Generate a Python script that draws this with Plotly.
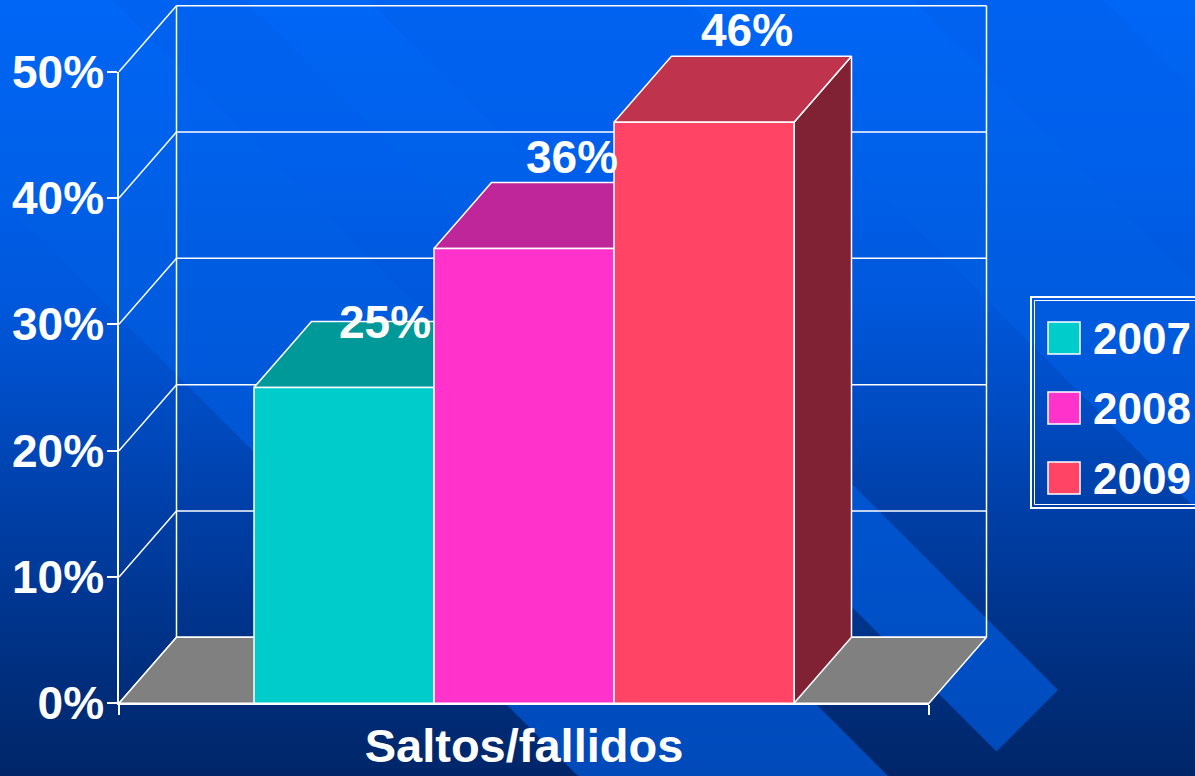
import plotly.graph_objects as go

# ---------------- data ----------------
categories = ["Saltos/fallidos"]
series_names = ["2007", "2008", "2009"]
values = [25, 36, 46]
value_labels = ["25%", "36%", "46%"]
y_tick_values = [0, 10, 20, 30, 40, 50]
y_tick_labels = ["0%", "10%", "20%", "30%", "40%", "50%"]

# ---------------- style / layout constants ----------------
W, H = 1195, 776
FONT = "Liberation Sans, Arial, sans-serif"
FRONT = ["#00CCCC", "#FF33CC", "#FF4466"]
FLOOR = "#808080"
EDGE = "white"
EDGE_W = 1.5

AX_X0, AX_X1 = 119.0, 929.0     # pixel span of the front category axis
AX_Y0, AX_Y50 = 703.3, 71.7     # pixel rows of 0 % and 50 %
Y_MAX = 50
GAP, BAR_W = 0.75, 1.0
DEPTH_PX = (57.5, 66.0)
LABEL_DX = [0.228, 0.267, 0.239]
LABEL_DY = [5.19, 7.25, 7.31]

n = len(values)
SPAN = 2 * GAP + n * BAR_W
ux = (AX_X1 - AX_X0) / SPAN
uy = (AX_Y0 - AX_Y50) / Y_MAX
DX = DEPTH_PX[0] / ux
DY = DEPTH_PX[1] / uy


def shade(hexc, f):
    r, g, b = int(hexc[1:3], 16), int(hexc[3:5], 16), int(hexc[5:7], 16)
    return f"rgb({round(r * f)},{round(g * f)},{round(b * f)})"


def px(x, y):
    return x / W, 1 - y / H


# ---------------- background (gradient + diagonal bands) ----------------
BG_STOPS = [(0, (0, 98, 240)), (150, (0, 96, 236)), (300, (0, 88, 220)),
            (400, (0, 76, 196)), (500, (0, 64, 170)), (600, (0, 54, 145)),
            (700, (0, 44, 120)), (776, (0, 38, 104))]
BAND_STOPS = [(0, (0, 102, 246)), (776, (0, 74, 186))]
BANDS = [(-198, 112, None), (245, 368, 1748), (687, 913, None), (1103, 3000, None)]


def interp(stops, y):
    for (y0, c0), (y1, c1) in zip(stops[:-1], stops[1:]):
        if y <= y1:
            t = (y - y0) / (y1 - y0)
            return "rgb(%d,%d,%d)" % tuple(round(a + (b - a) * t) for a, b in zip(c0, c1))
    return "rgb(%d,%d,%d)" % stops[-1][1]


def clip(poly, a, b, d):
    out = []
    m = len(poly)
    for i in range(m):
        P, Q = poly[i], poly[(i + 1) % m]
        fp = a * P[0] + b * P[1] - d
        fq = a * Q[0] + b * Q[1] - d
        if fp <= 0:
            out.append(P)
        if fp * fq < 0:
            t = fp / (fp - fq)
            out.append((P[0] + t * (Q[0] - P[0]), P[1] + t * (Q[1] - P[1])))
    return out


def path_of(poly):
    pts = [px(x, y) for x, y in poly]
    return "M " + " L ".join(f"{a:.5f},{b:.5f}" for a, b in pts) + " Z"


shapes = []
STRIP = 8
bg_shapes, band_shapes = [], []
for ya in range(0, H, STRIP):
    yb = min(H + 1, ya + STRIP + 1)
    ym = ya + STRIP / 2
    x0p, y0p = px(-2, yb)
    x1p, y1p = px(W + 2, ya)
    bg_shapes.append(dict(type="rect", xref="paper", yref="paper", x0=x0p, x1=x1p,
                          y0=y0p, y1=y1p, fillcolor=interp(BG_STOPS, ym),
                          line=dict(width=0), layer="below"))
    for c1, c2, s in BANDS:
        poly = [(-2, ya), (W + 2, ya), (W + 2, yb), (-2, yb)]
        poly = clip(poly, -1, 1, -c1)
        if len(poly) >= 3:
            poly = clip(poly, 1, -1, c2)
        if s is not None and len(poly) >= 3:
            poly = clip(poly, 1, 1, s)
        if len(poly) >= 3:
            band_shapes.append(dict(type="path", xref="paper", yref="paper",
                                    path=path_of(poly), fillcolor=interp(BAND_STOPS, ym),
                                    line=dict(width=0), layer="below"))
shapes += bg_shapes + band_shapes

# ---------------- walls / gridlines (data coordinates) ----------------
grid = dict(color=EDGE, width=EDGE_W)
for t in y_tick_values:
    shapes.append(dict(type="line", xref="x", yref="y", x0=DX, x1=SPAN + DX,
                       y0=t + DY, y1=t + DY, line=grid, layer="below"))
    shapes.append(dict(type="line", xref="x", yref="y", x0=0, x1=DX,
                       y0=t, y1=t + DY, line=grid, layer="below"))
for xv in (DX, SPAN + DX):
    shapes.append(dict(type="line", xref="x", yref="y", x0=xv, x1=xv,
                       y0=DY, y1=Y_MAX + DY, line=grid, layer="below"))

# ---------------- traces ----------------
fig = go.Figure()


def face(xs, ys, color):
    fig.add_trace(go.Scatter(x=xs + [xs[0]], y=ys + [ys[0]], mode="lines", fill="toself",
                             fillcolor=color, line=dict(color=EDGE, width=EDGE_W),
                             hoverinfo="skip", showlegend=False, xaxis="x", yaxis="y"))


# floor
face([0, SPAN, SPAN + DX, DX], [0, 0, DY, DY], FLOOR)

for i, v in enumerate(values):
    x0 = GAP + i * BAR_W
    x1 = x0 + BAR_W
    col = FRONT[i]
    face([x1, x1 + DX, x1 + DX, x1], [0, DY, v + DY, v], shade(col, 0.5))        # side
    face([x0, x1, x1 + DX, x0 + DX], [v, v, v + DY, v + DY], shade(col, 0.75))   # top
    face([x0, x1, x1, x0], [0, 0, v, v], col)                                     # front

# empty trace to anchor the visible axes subplot
fig.add_trace(go.Scatter(x=[], y=[], xaxis="x2", yaxis="y2", showlegend=False))

big = dict(family=FONT, size=46, color="white", weight="bold")
title_font = dict(family=FONT, size=47, color="white", weight="bold")
legend_font = dict(family=FONT, size=44, color="white", weight="bold")

annotations = []
for i, (v, lab) in enumerate(zip(values, value_labels)):
    annotations.append(dict(x=GAP + i * BAR_W + BAR_W / 2 + LABEL_DX[i], y=v + LABEL_DY[i],
                            xref="x", yref="y", text=lab, showarrow=False,
                            xanchor="center", yanchor="middle", font=big))

# ---------------- manual legend ----------------
LEG_BOX = (1048, 1080)
LEG_Y0, LEG_STEP = 338, 70
LEG_TEXT_X = 1091
shapes.append(dict(type="rect", xref="paper", yref="paper",
                   x0=px(1031, 0)[0], x1=1.02, y0=px(0, 508)[1], y1=px(0, 297)[1],
                   line=dict(color="white", width=2)))
shapes.append(dict(type="rect", xref="paper", yref="paper",
                   x0=px(1034.5, 0)[0], x1=1.02, y0=px(0, 504.5)[1], y1=px(0, 300.5)[1],
                   line=dict(color="white", width=1)))
for i, name in enumerate(series_names):
    yc = LEG_Y0 + i * LEG_STEP
    shapes.append(dict(type="rect", xref="paper", yref="paper",
                       x0=px(LEG_BOX[0], 0)[0], x1=px(LEG_BOX[1], 0)[0],
                       y0=px(0, yc + 16)[1], y1=px(0, yc - 16)[1],
                       fillcolor=FRONT[i], line=dict(color="white", width=1.5)))
    annotations.append(dict(x=px(LEG_TEXT_X, 0)[0], y=px(0, yc)[1], xref="paper", yref="paper",
                            text=name, showarrow=False, xanchor="left", yanchor="middle",
                            font=legend_font))

fig.update_layout(
    template="none",
    width=W, height=H, autosize=False,
    margin=dict(l=0, r=0, t=0, b=0, pad=0, autoexpand=False),
    paper_bgcolor="#00266a", plot_bgcolor="rgba(0,0,0,0)",
    showlegend=False,
    shapes=shapes, annotations=annotations,
    xaxis=dict(domain=[0, 1], range=[-AX_X0 / ux, (W - AX_X0) / ux], visible=False,
               fixedrange=True, automargin=False),
    yaxis=dict(domain=[0, 1], range=[-(H - AX_Y0) / uy, AX_Y0 / uy], visible=False,
               fixedrange=True, automargin=False),
    xaxis2=dict(domain=[AX_X0 / W, AX_X1 / W], range=[0, SPAN], anchor="y2",
                automargin=False,
                showline=True, linecolor=EDGE, linewidth=EDGE_W, showgrid=False,
                zeroline=False, tickmode="array", tickvals=[SPAN / 2], ticktext=categories,
                ticks="", tickfont=title_font, ticklabelstandoff=1, fixedrange=True,
                minor=dict(tickmode="array", tickvals=[0, SPAN], ticks="outside", ticklen=10,
                           tickcolor=EDGE, tickwidth=EDGE_W, showgrid=False)),
    yaxis2=dict(domain=[1 - AX_Y0 / H, 1 - AX_Y50 / H], range=[0, Y_MAX], anchor="x2",
                automargin=False,
                showline=True, linecolor=EDGE, linewidth=EDGE_W, showgrid=False,
                zeroline=False, tickmode="array", tickvals=y_tick_values,
                ticktext=y_tick_labels, ticks="outside", ticklen=10, tickcolor=EDGE,
                tickwidth=EDGE_W, tickfont=big, ticklabelstandoff=-6, fixedrange=True),
)

fig.write_html("out.html", config={"displayModeBar": False},
               post_script="document.body.style.margin='0';")
